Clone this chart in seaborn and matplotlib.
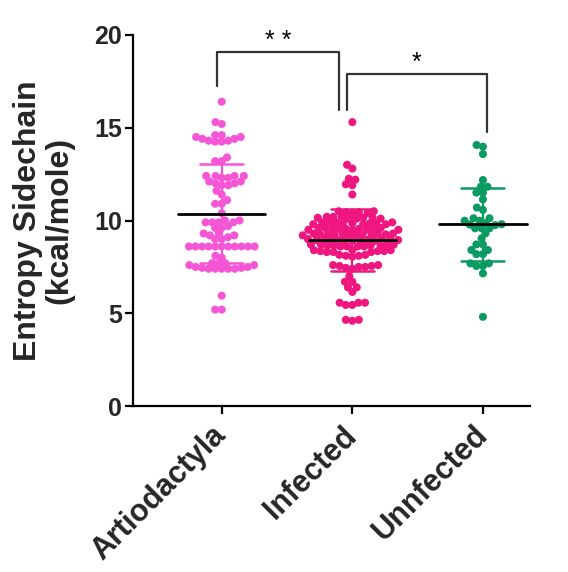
import numpy as np
import pandas as pd
import matplotlib
matplotlib.use("Agg")
import matplotlib.pyplot as plt
import seaborn as sns

# Entropy side-chain values (kcal/mole) per group
categories = ["Artiodactyla", "Infected", "Unnfected"]

artiodactyla = [
    16.4, 15.3, 15.2,
    14.6, 14.5, 14.4, 14.3, 14.25, 14.25, 14.3, 14.4, 14.5, 14.6,
    13.4, 13.2, 13.2,
    12.4, 12.3, 12.1, 12.0, 12.4, 11.9, 11.9, 12.4, 12.0, 12.1, 12.3, 12.4,
    11.6, 11.4, 11.1, 10.9, 10.9, 10.4,
    10.0, 9.9, 9.9, 9.9, 9.7, 9.9, 10.0, 9.6, 9.6,
    9.3, 9.2, 9.0, 9.1, 9.0, 9.2, 9.3,
    8.6, 8.6, 8.6, 8.6, 8.6, 8.6, 8.6, 8.6, 8.6, 8.6, 8.6,
    8.1, 8.0,
    7.7, 7.6, 7.5, 7.45, 7.4, 7.4, 7.4, 7.4, 7.4, 7.45, 7.5, 7.6, 7.7, 7.7,
    5.95, 5.2, 5.2,
]

infected = [
    15.3, 13.0, 12.8, 12.2, 12.25, 11.9, 11.95, 11.4,
    10.45, 10.5, 10.4, 10.45, 10.5, 10.4,
    10.15, 10.2, 10.1, 10.15, 10.2, 10.1, 10.15, 10.2, 10.1,
    9.85, 9.9, 9.8, 9.85, 9.9, 9.8, 9.85, 9.9, 9.8, 9.85, 9.9,
    9.55, 9.6, 9.5, 9.55, 9.6, 9.5, 9.55, 9.6, 9.5, 9.55, 9.6, 9.5,
    9.25, 9.3, 9.2, 9.25, 9.3, 9.2, 9.25, 9.3, 9.2, 9.25, 9.3, 9.2, 9.25,
    8.95, 9.0, 8.9, 8.95, 9.0, 8.9, 8.95, 9.0, 8.9, 8.95, 9.0, 8.9, 8.95,
    8.65, 8.7, 8.6, 8.65, 8.7, 8.6, 8.65, 8.7, 8.6, 8.65, 8.7, 8.6,
    8.35, 8.4, 8.3, 8.35, 8.4, 8.3, 8.35, 8.4, 8.3,
    8.1, 8.15, 8.05, 8.1, 8.15,
    7.6, 7.55, 7.5, 7.6, 7.45, 7.55, 7.4, 7.5,
    7.0, 6.7, 6.7, 6.4, 6.4, 6.15, 5.57, 5.57, 5.57, 5.45, 5.45,
    4.65, 4.6, 4.65,
]

unnfected = [
    14.07, 13.98, 13.58, 12.18, 11.82, 11.82, 11.5, 11.5, 11.14,
    10.7, 10.57, 10.12, 10.12, 9.99, 9.99, 9.8, 9.75, 9.78, 9.85,
    9.58, 9.58, 9.58, 9.31, 9.04, 8.71, 8.71, 8.41, 8.41, 8.19, 8.19,
    7.69, 7.69, 7.55, 7.55, 7.15, 4.81,
]

colors = ["#F556D6", "#F0167F", "#0A9A62"]

# Significance brackets: (left, right, left-leg bottom, right-leg bottom, top, label)
brackets = [
    (-0.036, 0.897, 17.25, 15.96, 19.1, "* *"),
    (0.961, 2.028, 15.96, 14.79, 17.88, "*"),
]

values = [artiodactyla, infected, unnfected]
df = pd.DataFrame({
    "group": np.repeat(categories, [len(v) for v in values]),
    "entropy": np.concatenate(values),
})

sns.set_theme(style="ticks")
plt.rcParams["font.family"] = ["Liberation Sans", "DejaVu Sans"]
plt.rcParams["font.weight"] = "bold"

fig = plt.figure(figsize=(5.68, 5.72), dpi=100)
ax = fig.add_axes([0.234, 0.290, 0.699, 0.649])
ax.set_xlim(-0.68, 2.36)
ax.set_ylim(0, 20)

# Swarm layout uses a smaller dot so the dense groups stay compact;
# once laid out, the dots are drawn larger so neighbours overlap.
sns.swarmplot(data=df, x="group", y="entropy", hue="group", order=categories,
              hue_order=categories, palette=colors, size=4.5,
              linewidth=0, legend=False, warn_thresh=1.0, ax=ax, zorder=2)
ax.set_xlim(-0.68, 2.36)
ax.set_ylim(0, 20)
fig.canvas.draw()
for coll in ax.collections:
    if "draw" in coll.__dict__:
        del coll.draw
    coll.set_sizes([5.8 ** 2])

# Mean line (black) with +/- SD whiskers in group colour
for i, (vals, c) in enumerate(zip(values, colors)):
    m = np.mean(vals)
    sd = np.std(vals, ddof=1)
    ax.plot([i, i], [m - sd, m + sd], color=c, lw=1.6, zorder=3)
    ax.plot([i - 0.165, i + 0.165], [m + sd, m + sd], color=c, lw=1.8, zorder=3)
    ax.plot([i - 0.165, i + 0.165], [m - sd, m - sd], color=c, lw=1.8, zorder=3)
    ax.plot([i - 0.335, i + 0.335], [m, m], color="black", lw=2.0, zorder=4)

for x0, x1, yl, yr, top, label in brackets:
    ax.plot([x0, x0, x1, x1], [yl, top, top, yr], color="#333333", lw=1.6,
            clip_on=False, zorder=5)
    ax.text((x0 + x1) / 2, top + 0.22, label, ha="center", va="baseline",
            fontsize=18, fontweight="normal", color="black", clip_on=False)

ax.set_xlim(-0.68, 2.36)
ax.set_ylim(0, 20)
ax.set_yticks([0, 5, 10, 15, 20])
ax.set_xlabel("")
ax.set_ylabel("Entropy Sidechain\n(kcal/mole)", fontsize=23, fontweight="bold",
              labelpad=14, linespacing=1.05)
ax.tick_params(axis="both", width=1.6, length=6, color="black")
ax.tick_params(axis="y", labelsize=18, pad=2)
ax.tick_params(axis="x", labelsize=22, pad=12)
for lab in ax.get_xticklabels():
    lab.set_rotation(45)
    lab.set_ha("right")
    lab.set_va("center")
    lab.set_rotation_mode("anchor")
    lab.set_fontweight("bold")
for lab in ax.get_yticklabels():
    lab.set_fontweight("bold")
for s in ["left", "bottom"]:
    ax.spines[s].set_linewidth(1.6)
    ax.spines[s].set_color("black")
sns.despine(ax=ax)

fig.savefig("out.png", dpi=100)
